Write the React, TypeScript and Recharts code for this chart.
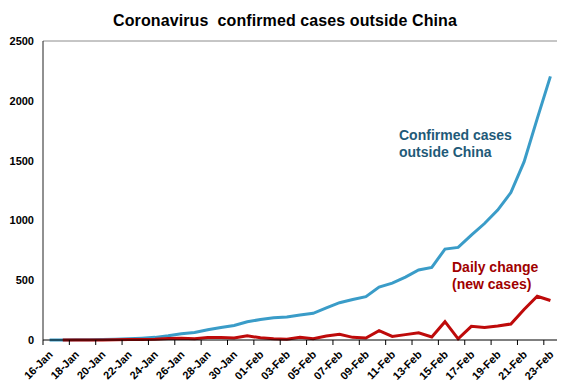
import React from "react";
import { LineChart, Line, XAxis, YAxis, ReferenceLine } from "recharts";

const dates = [
  "16-Jan", "17-Jan", "18-Jan", "19-Jan", "20-Jan", "21-Jan", "22-Jan", "23-Jan",
  "24-Jan", "25-Jan", "26-Jan", "27-Jan", "28-Jan", "29-Jan", "30-Jan", "31-Jan",
  "01-Feb", "02-Feb", "03-Feb", "04-Feb", "05-Feb", "06-Feb", "07-Feb", "08-Feb",
  "09-Feb", "10-Feb", "11-Feb", "12-Feb", "13-Feb", "14-Feb", "15-Feb", "16-Feb",
  "17-Feb", "18-Feb", "19-Feb", "20-Feb", "21-Feb", "22-Feb", "23-Feb",
];

const confirmedOutside = [
  1, 1, 2, 3, 4, 6, 10, 15, 22, 35, 52, 62, 85, 105, 122, 152, 172, 186, 192,
  209, 223, 268, 312, 338, 362, 443, 476, 526, 585, 607, 760, 774, 877, 974,
  1086, 1233, 1489, 1851, 2204,
];

const dailyNew = [
  null, 0, 1, 1, 1, 2, 4, 5, 7, 12, 15, 10, 20, 20, 17, 35, 18, 10, 6, 22, 11,
  33, 47, 22, 17, 78, 30, 45, 61, 25, 153, 10, 114, 104, 117, 134, 255, 366, 330,
];

const yTicks = [0, 500, 1000, 1500, 2000, 2500];

const data = dates.map((d, i) => ({
  date: d,
  total: confirmedOutside[i],
  daily: dailyNew[i],
}));

const FONT = "'Liberation Sans', Arial, sans-serif";

// label centred on the day, tick mark on the left edge of the day
function DateTick(props: any) {
  const { x, y, payload } = props;
  const half = payload && payload.offset ? payload.offset : 0;
  return (
    <g>
      <line x1={x - half} x2={x - half} y1={y} y2={y + 5} stroke="#000" />
      <text
        x={0}
        y={0}
        dy={4}
        textAnchor="end"
        transform={`translate(${x + 1},${y + 12.5}) rotate(-45)`}
        fontFamily={FONT}
        fontWeight="bold"
        fontSize={11}
        fill="#000"
      >
        {payload.value}
      </text>
    </g>
  );
}

export default function App() {
  return (
    <div
      style={{
        position: "absolute",
        left: 0,
        top: 0,
        width: 570,
        height: 386,
        background: "#fff",
        fontFamily: FONT,
      }}
    >
      <div
        style={{
          position: "absolute",
          left: 0,
          top: 12,
          width: 570,
          textAlign: "center",
          fontSize: 16,
          fontWeight: "bold",
          letterSpacing: 0.1,
          whiteSpace: "pre",
        }}
      >
        {"Coronavirus  confirmed cases outside China"}
      </div>
      <LineChart
        width={570}
        height={386}
        data={data}
        margin={{ top: 41, right: 13, bottom: 0, left: 0 }}
      >
        <XAxis
          xAxisId="edge"
          type="number"
          domain={[0, dates.length]}
          allowDataOverflow
          hide
        />
        <XAxis
          dataKey="date"
          scale="band"
          interval={1}
          height={46}
          tickSize={0}
          tickMargin={0}
          tickLine={false}
          axisLine={{ stroke: "#000" }}
          tick={<DateTick />}
        />
        <YAxis
          domain={[0, 2500]}
          ticks={yTicks}
          width={43}
          tickLine={false}
          tickMargin={3}
          axisLine={{ stroke: "#222" }}
          tick={{
            fontFamily: FONT,
            fontWeight: "bold",
            fontSize: 11,
            fill: "#000",
          }}
        />
        <ReferenceLine y={2500} stroke="#8c8c8c" />
        <ReferenceLine xAxisId="edge" x={dates.length} stroke="#8c8c8c" />
        <Line
          dataKey="total"
          stroke="#3a9cc8"
          strokeWidth={3}
          dot={false}
          activeDot={false}
          isAnimationActive={false}
        />
        <Line
          dataKey="daily"
          stroke="#be0a0a"
          strokeWidth={3}
          dot={false}
          activeDot={false}
          isAnimationActive={false}
        />
      </LineChart>
      <div
        style={{
          position: "absolute",
          left: 399,
          top: 127,
          fontSize: 14,
          lineHeight: "16.5px",
          fontWeight: "bold",
          color: "#1f5a78",
        }}
      >
        Confirmed cases
        <br />
        outside China
      </div>
      <div
        style={{
          position: "absolute",
          left: 452,
          top: 259,
          fontSize: 14,
          lineHeight: "16.5px",
          fontWeight: "bold",
          color: "#a00000",
        }}
      >
        Daily change
        <br />
        (new cases)
      </div>
    </div>
  );
}
